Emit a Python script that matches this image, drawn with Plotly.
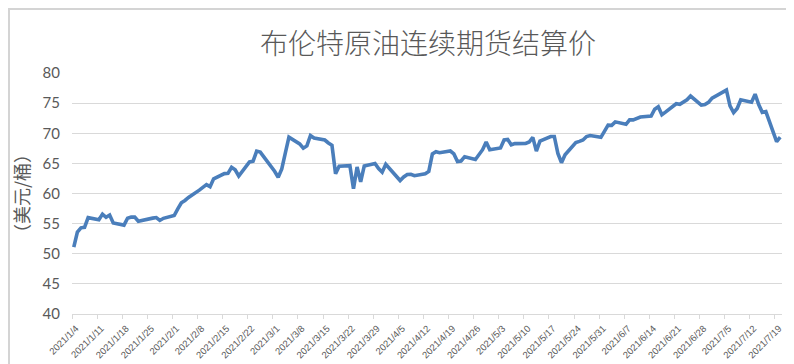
import pandas as pd
import plotly.graph_objects as go

dates = [
    "2021-01-04","2021-01-05","2021-01-06","2021-01-07","2021-01-08",
    "2021-01-11","2021-01-12","2021-01-13","2021-01-14","2021-01-15",
    "2021-01-18","2021-01-19","2021-01-20","2021-01-21","2021-01-22",
    "2021-01-25","2021-01-26","2021-01-27","2021-01-28","2021-01-29",
    "2021-02-01","2021-02-02","2021-02-03","2021-02-04","2021-02-05",
    "2021-02-08","2021-02-09","2021-02-10","2021-02-11","2021-02-12",
    "2021-02-15","2021-02-16","2021-02-17","2021-02-18","2021-02-19",
    "2021-02-22","2021-02-23","2021-02-24","2021-02-25","2021-02-26",
    "2021-03-01","2021-03-02","2021-03-03","2021-03-04","2021-03-05",
    "2021-03-08","2021-03-09","2021-03-10","2021-03-11","2021-03-12",
    "2021-03-15","2021-03-16","2021-03-17","2021-03-18","2021-03-19",
    "2021-03-22","2021-03-23","2021-03-24","2021-03-25","2021-03-26",
    "2021-03-29","2021-03-30","2021-03-31","2021-04-01",
    "2021-04-05","2021-04-06","2021-04-07","2021-04-08","2021-04-09",
    "2021-04-12","2021-04-13","2021-04-14","2021-04-15","2021-04-16",
    "2021-04-19","2021-04-20","2021-04-21","2021-04-22","2021-04-23",
    "2021-04-26","2021-04-27","2021-04-28","2021-04-29","2021-04-30",
    "2021-05-03","2021-05-04","2021-05-05","2021-05-06","2021-05-07",
    "2021-05-10","2021-05-11","2021-05-12","2021-05-13","2021-05-14",
    "2021-05-17","2021-05-18","2021-05-19","2021-05-20","2021-05-21",
    "2021-05-24","2021-05-25","2021-05-26","2021-05-27","2021-05-28",
    "2021-05-31","2021-06-01","2021-06-02","2021-06-03","2021-06-04",
    "2021-06-07","2021-06-08","2021-06-09","2021-06-10","2021-06-11",
    "2021-06-14","2021-06-15","2021-06-16","2021-06-17","2021-06-18",
    "2021-06-21","2021-06-22","2021-06-23","2021-06-24","2021-06-25",
    "2021-06-28","2021-06-29","2021-06-30","2021-07-01","2021-07-02",
    "2021-07-05","2021-07-06","2021-07-07","2021-07-08","2021-07-09",
    "2021-07-12","2021-07-13","2021-07-14","2021-07-15","2021-07-16",
    "2021-07-19","2021-07-20",
]

prices = [
    51.09, 53.60, 54.30, 54.38, 55.99,
    55.66, 56.58, 56.06, 56.42, 55.10,
    54.75, 55.90, 56.08, 56.10, 55.41,
    55.88, 55.91, 56.01, 55.53, 55.88,
    56.35, 57.46, 58.46, 58.84, 59.34,
    60.56, 61.09, 61.47, 61.14, 62.43,
    63.30, 63.35, 64.34, 63.93, 62.91,
    65.24, 65.37, 67.04, 66.88, 66.13,
    63.69, 62.70, 64.07, 66.74, 69.36,
    68.24, 67.52, 67.90, 69.63, 69.22,
    68.88, 68.39, 68.00, 63.28, 64.53,
    64.62, 60.79, 64.41, 61.95, 64.57,
    64.98, 64.14, 63.54, 64.86,
    62.15, 62.74, 63.16, 63.20, 62.95,
    63.28, 63.67, 66.58, 66.94, 66.77,
    67.05, 66.57, 65.32, 65.40, 66.11,
    65.65, 66.42, 67.27, 68.56, 67.25,
    67.56, 68.88, 68.96, 68.09, 68.28,
    68.32, 68.55, 69.32, 67.05, 68.71,
    69.46, 69.46, 66.66, 65.11, 66.44,
    68.46, 68.65, 68.87, 69.46, 69.63,
    69.32, 70.25, 71.35, 71.31, 71.89,
    71.49, 72.22, 72.22, 72.52, 72.69,
    72.86, 73.99, 74.39, 73.08, 73.51,
    74.90, 74.81, 75.19, 75.56, 76.18,
    74.68, 74.76, 75.13, 75.84, 76.17,
    77.16, 74.53, 73.43, 74.12, 75.55,
    75.16, 76.49, 74.76, 73.47, 73.59,
    68.62, 69.35,
]

title_text = "布伦特原油连续期货结算价"
y_title = "（美元/桶）"

# Excel date axis places points in the middle of each day slot
x_vals = pd.to_datetime(dates) + pd.Timedelta(hours=12)

GRAY_TXT = "#595959"
GRID = "#d9d9d9"

fig = go.Figure()
fig.add_trace(go.Scatter(
    x=x_vals, y=prices, mode="lines",
    line=dict(color="#4a7ebb", width=3.6),
    showlegend=False,
))

W, H = 794, 364
L, R, T, B = 64, 20, 65, 58
pw, ph = W - L - R, H - T - B

def px_to_paper_x(px):
    return (px - L) / pw

def px_to_paper_y(py):
    return (H - B - py) / ph

fig.update_layout(
    width=W, height=H,
    margin=dict(l=L, r=R, t=T, b=B, autoexpand=False),
    paper_bgcolor="white", plot_bgcolor="white",
    title=dict(
        text=title_text,
        font=dict(family="Noto Sans CJK SC", size=28, color=GRAY_TXT, weight=300),
        xref="paper", x=px_to_paper_x(420), xanchor="center",
        yref="container", y=1 - 36 / H, yanchor="middle",
    ),
    xaxis=dict(
        type="date",
        range=["2021-01-04", "2021-07-21"],
        tick0="2021-01-04", dtick=7 * 86400000,
        tickformat="%Y/%-m/%-d", tickangle=-45,
        tickfont=dict(family="Liberation Sans", size=9.5, color=GRAY_TXT),
        ticks="outside", ticklen=4, tickcolor=GRID, tickwidth=1.3,
        ticklabelshift=4, ticklabelstandoff=0,
        showline=True, linecolor=GRID, linewidth=1.3,
        showgrid=False, zeroline=False,
    ),
    yaxis=dict(
        range=[40, 80], dtick=5, tick0=40,
        tickfont=dict(family="Lato", size=15, color=GRAY_TXT),
        showgrid=True, gridcolor=GRID, gridwidth=1.3,
        zeroline=False, showline=False, ticks="",
        ticklabelstandoff=11,
        title=dict(
            text=y_title, standoff=8,
            font=dict(family="Noto Sans CJK SC", size=18, color=GRAY_TXT),
        ),
    ),
    shapes=[dict(
        type="rect", xref="paper", yref="paper",
        x0=px_to_paper_x(1), x1=px_to_paper_x(791),
        y0=px_to_paper_y(361.7), y1=px_to_paper_y(1),
        line=dict(color="#d4d4d4", width=2), fillcolor="rgba(0,0,0,0)",
        layer="above",
    )],
)

fig.write_html("out.html")
